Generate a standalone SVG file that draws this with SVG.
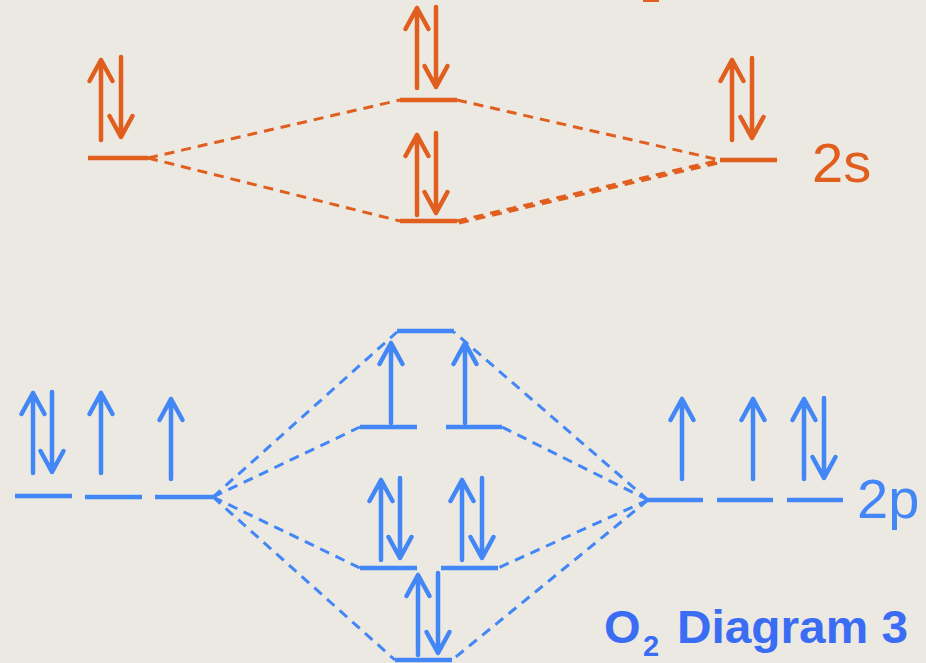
<svg xmlns="http://www.w3.org/2000/svg" xmlns:xlink="http://www.w3.org/1999/xlink" width="926" height="663" viewBox="0 0 926 663">
<style>
.o{stroke:#E05E1E;fill:none}
.b{stroke:#4287F5;fill:none}
.lvl{stroke-width:4.5}
.dash{stroke-width:3;stroke-dasharray:10 7}
.arr{stroke-width:4.5;stroke-linecap:round;stroke-linejoin:round}
.lbl{font-family:"Liberation Sans",Arial,sans-serif;font-size:56px}
.ttl{font-family:"Liberation Sans",Arial,sans-serif;font-weight:bold;fill:#3A6CF4}
</style>
<defs>
<path id="up" d="M0,80 V0 M-11.5,21 L0,0 L11.5,21"/>
<path id="dn" d="M0,0 V80 M-11.5,59 L0,80 L11.5,59"/>
</defs>
<rect width="926" height="663" fill="#ECE9E3"/>
<rect x="643" y="0" width="16" height="2" fill="#E05E1E"/>

<g id="connectors">
<g class="o dash">
<line x1="148" y1="158" x2="400" y2="100"/>
<line x1="457" y1="100" x2="720" y2="160"/>
<line x1="148" y1="158" x2="400" y2="221"/>
<line x1="457" y1="221" x2="720" y2="160"/>
<line x1="459" y1="223" x2="718" y2="163"/>
</g>
<g class="b dash">
<line x1="213" y1="497" x2="397" y2="332"/>
<line x1="213" y1="497" x2="360" y2="427"/>
<line x1="213" y1="497" x2="360" y2="568"/>
<line x1="213" y1="497" x2="395" y2="660"/>
<line x1="648" y1="500" x2="454" y2="332"/>
<line x1="648" y1="500" x2="502" y2="427"/>
<line x1="648" y1="500" x2="498" y2="568"/>
<line x1="648" y1="500" x2="452" y2="660"/>
</g>
</g>

<g id="o-left-2s">
<line class="o lvl" x1="88" y1="158" x2="148" y2="158"/>
<use href="#up" class="o arr" x="101" y="60"/>
<use href="#dn" class="o arr" x="121" y="57"/>
</g>
<g id="sigma-star-2s">
<line class="o lvl" x1="400" y1="100" x2="457" y2="100"/>
<use href="#up" class="o arr" x="417" y="8"/>
<use href="#dn" class="o arr" x="436" y="7"/>
</g>
<g id="sigma-2s">
<line class="o lvl" x1="400" y1="221" x2="457" y2="221"/>
<use href="#up" class="o arr" x="417" y="135"/>
<use href="#dn" class="o arr" x="436" y="133"/>
</g>
<g id="o-right-2s">
<line class="o lvl" x1="720" y1="160" x2="777" y2="160"/>
<use href="#up" class="o arr" x="732" y="60"/>
<use href="#dn" class="o arr" x="752" y="58"/>
<text class="lbl" x="812" y="182" fill="#E05E1E">2s</text>
</g>

<g id="o-left-2p">
<line class="b lvl" x1="15" y1="496" x2="72" y2="496"/>
<line class="b lvl" x1="85" y1="497" x2="142" y2="497"/>
<line class="b lvl" x1="155" y1="497" x2="213" y2="497"/>
<use href="#up" class="b arr" x="33" y="393"/>
<use href="#dn" class="b arr" x="52" y="392"/>
<use href="#up" class="b arr" x="101" y="393"/>
<use href="#up" class="b arr" x="171" y="399"/>
</g>
<g id="o-right-2p">
<line class="b lvl" x1="648" y1="500" x2="703" y2="500"/>
<line class="b lvl" x1="717" y1="500" x2="773" y2="500"/>
<line class="b lvl" x1="787" y1="500" x2="843" y2="500"/>
<use href="#up" class="b arr" x="682" y="399"/>
<use href="#up" class="b arr" x="753" y="399"/>
<use href="#up" class="b arr" x="804" y="399"/>
<use href="#dn" class="b arr" x="824" y="398"/>
<text class="lbl" x="857" y="518" fill="#4287F5">2p</text>
</g>
<g id="sigma-star-2p">
<line class="b lvl" x1="397" y1="331" x2="454" y2="331"/>
</g>
<g id="pi-star-2p">
<line class="b lvl" x1="360" y1="427" x2="417" y2="427"/>
<line class="b lvl" x1="446" y1="427" x2="502" y2="427"/>
<use href="#up" class="b arr" x="391" y="343"/>
<use href="#up" class="b arr" x="465" y="343"/>
</g>
<g id="pi-2p">
<line class="b lvl" x1="360" y1="568" x2="417" y2="568"/>
<line class="b lvl" x1="441" y1="568" x2="498" y2="568"/>
<use href="#up" class="b arr" x="381" y="480"/>
<use href="#dn" class="b arr" x="400" y="478"/>
<use href="#up" class="b arr" x="462" y="480"/>
<use href="#dn" class="b arr" x="482" y="478"/>
</g>
<g id="sigma-2p">
<line class="b lvl" x1="395" y1="660" x2="452" y2="660"/>
<use href="#up" class="b arr" x="418" y="575"/>
<use href="#dn" class="b arr" x="438" y="573"/>
</g>

<g id="title">
<text class="ttl" x="604" y="643" font-size="47">O</text>
<text class="ttl" x="643" y="656" font-size="29">2</text>
<text class="ttl" x="677" y="643" font-size="47" textLength="231" lengthAdjust="spacingAndGlyphs">Diagram 3</text>
</g>
</svg>
